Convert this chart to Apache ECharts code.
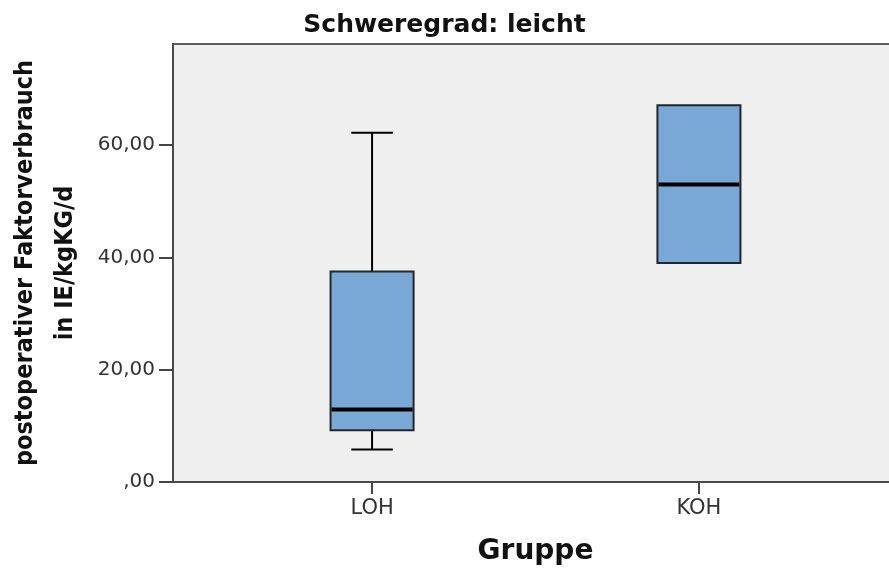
<!DOCTYPE html>
<html>
<head>
<meta charset="utf-8">
<title>Schweregrad: leicht</title>
<script src="https://cdn.jsdelivr.net/npm/echarts@6/dist/echarts.min.js"></script>
<style>
  html, body { margin: 0; padding: 0; background: #ffffff; }
  #chart { width: 889px; height: 568px; }
</style>
</head>
<body>
<div id="chart"></div>
<script>
// Groups and their box plot statistics (IE/kgKG/d)
const groups = ['LOH', 'KOH'];
const whiskerLow = [5.8, 39.0];
const quartile1 = [9.2, 39.0];
const medians = [12.9, 53.0];
const quartile3 = [37.5, 67.1];
const whiskerHigh = [62.2, 67.1];

// Value-axis ticks (labels use a German decimal comma)
const yTicks = [0, 20, 40, 60];

const boxData = groups.map((g, i) => [
  i, whiskerLow[i], quartile1[i], medians[i], quartile3[i], whiskerHigh[i]
]);

const BOX_WIDTH = 0.254;   // box width in group units
const CAP_WIDTH = 0.127;   // whisker cap width in group units

function renderBox(params, api) {
  const x = api.value(0);
  const lo = api.coord([x, api.value(1)]);
  const q1 = api.coord([x, api.value(2)]);
  const md = api.coord([x, api.value(3)]);
  const q3 = api.coord([x, api.value(4)]);
  const hi = api.coord([x, api.value(5)]);
  const halfBox = api.size([BOX_WIDTH, 0])[0] / 2;
  const halfCap = api.size([CAP_WIDTH, 0])[0] / 2;
  const lineStyle = { stroke: '#000000', lineWidth: 2 };
  const children = [];
  if (Math.abs(lo[1] - q1[1]) > 0.5) {
    children.push(
      { type: 'line', shape: { x1: lo[0], y1: lo[1], x2: q1[0], y2: q1[1] }, style: lineStyle },
      { type: 'line', shape: { x1: lo[0] - halfCap, y1: lo[1], x2: lo[0] + halfCap, y2: lo[1] }, style: lineStyle }
    );
  }
  if (Math.abs(hi[1] - q3[1]) > 0.5) {
    children.push(
      { type: 'line', shape: { x1: hi[0], y1: hi[1], x2: q3[0], y2: q3[1] }, style: lineStyle },
      { type: 'line', shape: { x1: hi[0] - halfCap, y1: hi[1], x2: hi[0] + halfCap, y2: hi[1] }, style: lineStyle }
    );
  }
  children.push({
    type: 'rect',
    shape: { x: q3[0] - halfBox, y: q3[1], width: halfBox * 2, height: q1[1] - q3[1] },
    style: { fill: '#7aa8d6', stroke: '#23272c', lineWidth: 2 }
  });
  children.push({
    type: 'line',
    shape: { x1: md[0] - halfBox + 1, y1: md[1], x2: md[0] + halfBox - 1, y2: md[1] },
    style: { stroke: '#000000', lineWidth: 4 }
  });
  return { type: 'group', children };
}

const chart = echarts.init(document.getElementById('chart'), null, { renderer: 'canvas' });

chart.setOption({
  animation: false,
  backgroundColor: '#ffffff',
  title: {
    text: 'Schweregrad: leicht',
    left: 'center',
    top: 8,
    textStyle: {
      fontFamily: 'DejaVu Sans',
      fontWeight: 'bold',
      fontSize: 25,
      color: '#111111'
    }
  },
  grid: {
    left: 173,
    top: 44,
    width: 725,
    bottom: 86,
    outerBoundsMode: 'none',
    containLabel: false,
    show: true,
    backgroundColor: '#efefef',
    borderColor: '#5e5e5e',
    borderWidth: 2
  },
  xAxis: {
    type: 'value',
    min: -0.609,
    max: 1.609,
    name: 'Gruppe',
    nameLocation: 'middle',
    nameGap: 56,
    nameTextStyle: {
      fontFamily: 'DejaVu Sans',
      fontWeight: 'bold',
      fontSize: 28,
      color: '#111111'
    },
    axisLine: { show: true, onZero: false, lineStyle: { color: '#4a4a4a', width: 2 } },
    axisTick: { show: true, customValues: [0, 1], length: 12, lineStyle: { color: '#444444', width: 2 } },
    axisLabel: {
      customValues: [0, 1],
      formatter: v => groups[Math.round(v)],
      margin: 16,
      fontFamily: 'DejaVu Sans',
      fontSize: 21,
      color: '#333333'
    },
    splitLine: { show: false }
  },
  yAxis: {
    type: 'value',
    min: 0,
    max: 78,
    interval: 20,
    name: 'postoperativer Faktorverbrauch\nin IE/kgKG/d',
    nameLocation: 'middle',
    nameGap: 88,
    nameTextStyle: {
      fontFamily: '"DejaVu Sans Condensed", "Liberation Sans Narrow", "Liberation Sans"',
      fontWeight: 'bold',
      fontSize: 25,
      lineHeight: 40,
      color: '#111111'
    },
    axisLine: { show: true, onZero: false, lineStyle: { color: '#4a4a4a', width: 2 } },
    axisTick: { show: true, customValues: yTicks, length: 14, lineStyle: { color: '#444444', width: 2 } },
    axisLabel: {
      customValues: yTicks,
      margin: 18,
      fontFamily: 'DejaVu Sans',
      fontSize: 20,
      color: '#333333',
      formatter: v => (v === 0 ? ',00' : v.toFixed(2).replace('.', ','))
    },
    splitLine: { show: false }
  },
  series: [{
    type: 'custom',
    renderItem: renderBox,
    encode: { x: 0, y: [1, 2, 3, 4, 5] },
    data: boxData,
    clip: false
  }]
});
</script>
</body>
</html>
